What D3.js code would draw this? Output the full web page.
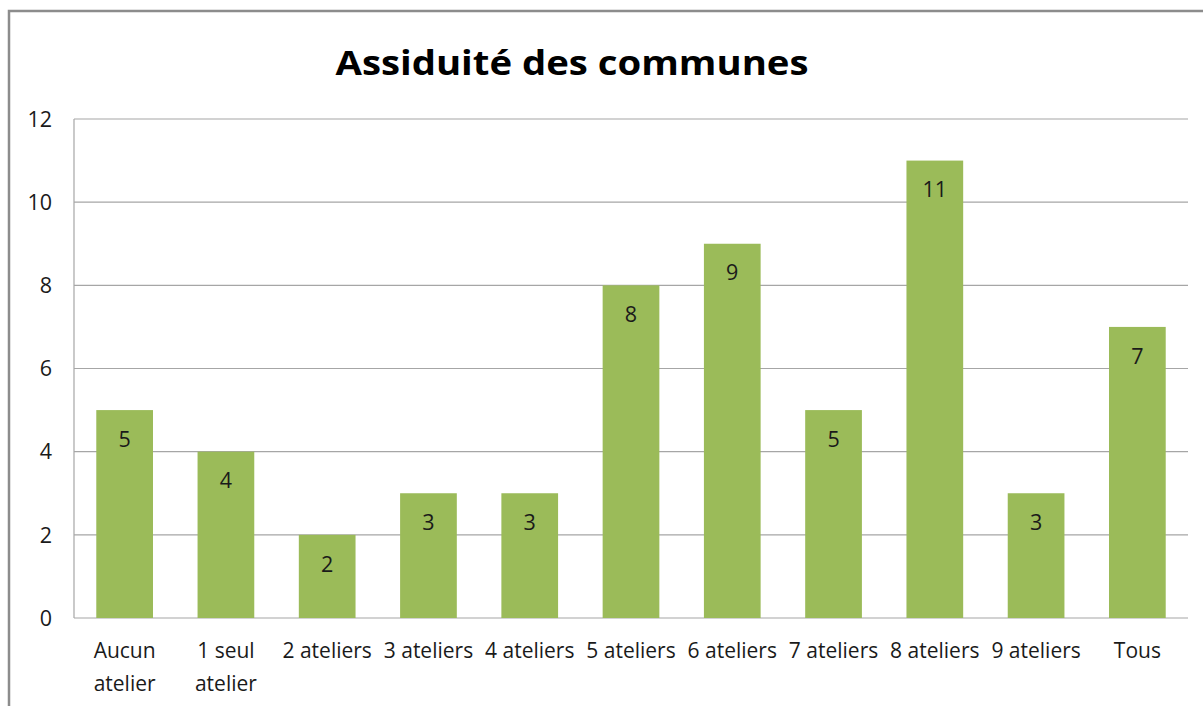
<!DOCTYPE html>
<html>
<head>
<meta charset="utf-8">
<script src="https://cdn.jsdelivr.net/npm/d3@7"></script>
<style>
  body { margin: 0; background: #fff; }
  text { font-family: "Open Sans", "Liberation Sans", Arial, sans-serif; fill: #1a1a1a; }
</style>
</head>
<body>
<script>
var categories = [["Aucun", "atelier"], ["1 seul", "atelier"], ["2 ateliers"], ["3 ateliers"], ["4 ateliers"],
  ["5 ateliers"], ["6 ateliers"], ["7 ateliers"], ["8 ateliers"], ["9 ateliers"], ["Tous"]];
var values = [5, 4, 2, 3, 3, 8, 9, 5, 11, 3, 7];
var yTicks = [0, 2, 4, 6, 8, 10, 12];
var title = "Assiduité des communes";

var width = 1203, height = 706;
var margin = {left: 74, top: 119, right: 15, bottom: 88};

var svg = d3.select("body").append("svg")
    .attr("width", width)
    .attr("height", height);

// outer chart frame (runs off the right and bottom edges)
svg.append("rect")
    .attr("x", 9).attr("y", 11)
    .attr("width", 1210).attr("height", 720)
    .attr("fill", "none")
    .attr("stroke", "#8c8c8c")
    .attr("stroke-width", 2.5);

var x = d3.scaleBand()
    .domain(d3.range(values.length))
    .range([margin.left, width - margin.right])
    .paddingInner(0.44)
    .paddingOuter(0.22);

var y = d3.scaleLinear()
    .domain([0, 12])
    .range([height - margin.bottom, margin.top]);

// gridlines
svg.append("g")
  .selectAll("line")
  .data(yTicks)
  .enter().append("line")
    .attr("x1", margin.left).attr("x2", width - margin.right)
    .attr("y1", d => y(d)).attr("y2", d => y(d))
    .attr("stroke", "#a6a6a6")
    .attr("stroke-width", 1.2);

// y axis line
svg.append("line")
    .attr("x1", margin.left).attr("x2", margin.left)
    .attr("y1", y(12)).attr("y2", y(0))
    .attr("stroke", "#a6a6a6")
    .attr("stroke-width", 1.2);

svg.append("g")
  .selectAll("text")
  .data(yTicks)
  .enter().append("text")
    .attr("x", 52)
    .attr("y", d => y(d))
    .attr("dy", "0.36em")
    .attr("text-anchor", "end")
    .style("font-size", "21.5px")
    .text(d => d);

// bars
svg.append("g")
  .selectAll("rect")
  .data(values)
  .enter().append("rect")
    .attr("x", (d, i) => x(i))
    .attr("y", d => y(d))
    .attr("width", x.bandwidth())
    .attr("height", d => y(0) - y(d))
    .attr("fill", "#9bbb59");

// value labels
svg.append("g")
  .selectAll("text")
  .data(values)
  .enter().append("text")
    .attr("x", (d, i) => x(i) + x.bandwidth() / 2)
    .attr("y", d => y(d) + 29)
    .attr("dy", "0.36em")
    .attr("text-anchor", "middle")
    .style("font-size", "21.5px")
    .text(d => d);

// category labels
var cat = svg.append("g")
  .selectAll("text")
  .data(categories)
  .enter().append("text")
    .attr("text-anchor", "middle")
    .style("font-size", "21px");

cat.selectAll("tspan")
  .data((d, i) => d.map(t => ({t: t, i: i})))
  .enter().append("tspan")
    .attr("x", d => x(d.i) + x.bandwidth() / 2)
    .attr("y", (d, j) => 658 + j * 33)
    .text(d => d.t);

// title
svg.append("text")
    .attr("x", 572)
    .attr("y", 75)
    .attr("text-anchor", "middle")
    .attr("textLength", 473)
    .attr("lengthAdjust", "spacingAndGlyphs")
    .style("font-size", "34px")
    .style("font-weight", "bold")
    .style("fill", "#000")
    .text(title);
</script>
</body>
</html>
